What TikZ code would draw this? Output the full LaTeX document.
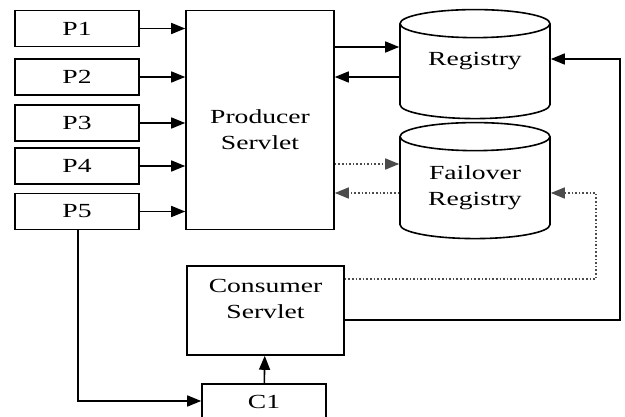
\documentclass[tikz,border=0pt]{standalone}
\usepackage{fontspec}
\setmainfont[FakeStretch=1.38]{Liberation Serif}
\usetikzlibrary{shapes.geometric,arrows.meta}
\tikzstyle{block}=[draw,rectangle,line width=1.6pt,inner sep=0pt]
\tikzstyle{store}=[draw,cylinder,shape border rotate=90,aspect=0.3,line width=1.6pt,minimum width=150pt,inner sep=0pt,align=center]
\tikzstyle{link}=[line width=1.6pt]
\tikzstyle{backup}=[line width=1.6pt,dotted,black!70]

\begin{document}
\begin{tikzpicture}[x=1pt,y=-1pt,>={Triangle[length=14pt,width=11pt]},font=\fontsize{20pt}{26pt}\selectfont]
\useasboundingbox (0,0) rectangle (625,417);
\node[block,minimum width=124pt,minimum height=36pt] (p1) at (77,28.5) {P1};
\node[block,minimum width=124pt,minimum height=36pt] (p2) at (77,77) {P2};
\node[block,minimum width=124pt,minimum height=36pt] (p3) at (77,123) {P3};
\node[block,minimum width=124pt,minimum height=36pt] (p4) at (77,166) {P4};
\node[block,minimum width=124pt,minimum height=36pt] (p5) at (77,211.5) {P5};
\node[block,minimum width=148pt,minimum height=219pt,
  label={[align=center,yshift=-10pt]center:Producer\\Servlet}] (producer) at (260,120) {};
\node[store,minimum height=109pt,text depth=25pt] (registry) at (475,71.5) {Registry};
\node[store,minimum height=116pt] (failover) at (475,188) {Failover\\Registry};
\node[block,minimum width=157pt,minimum height=89pt,
  label={[align=center,yshift=12pt]center:Consumer\\Servlet}] (consumer) at (265.5,310.5) {};
\node[block,minimum width=124pt,minimum height=36pt] (c1) at (264,402) {C1};
\coordinate (solidbend) at (620,59);
\coordinate (dotbend) at (596,193);
\coordinate (p5bend) at (78,401);

\foreach \i in {1,...,5}
  \draw[link,->] (p\i) -- (p\i -| producer.west);
\draw[link,->] (producer.east |- 0,47) -- (registry.west |- 0,47);
\draw[link,->] (registry.west |- 0,77) -- (producer.east |- 0,77);
\draw[backup,->] (producer.east |- 0,164) -- (failover.west |- 0,164);
\draw[backup,->] (failover.west |- 0,193) -- (producer.east |- 0,193);
\draw[backup,->] (consumer.east |- 0,279) -| (dotbend) -- (failover.east |- dotbend);
\draw[link,->] (consumer.east |- 0,320) -| (solidbend) -- (registry.east |- solidbend);
\draw[link,->] (p5.south -| p5bend) |- (c1.west |- p5bend);
\draw[link,->] (c1) -- (consumer);
\end{tikzpicture}
\end{document}
